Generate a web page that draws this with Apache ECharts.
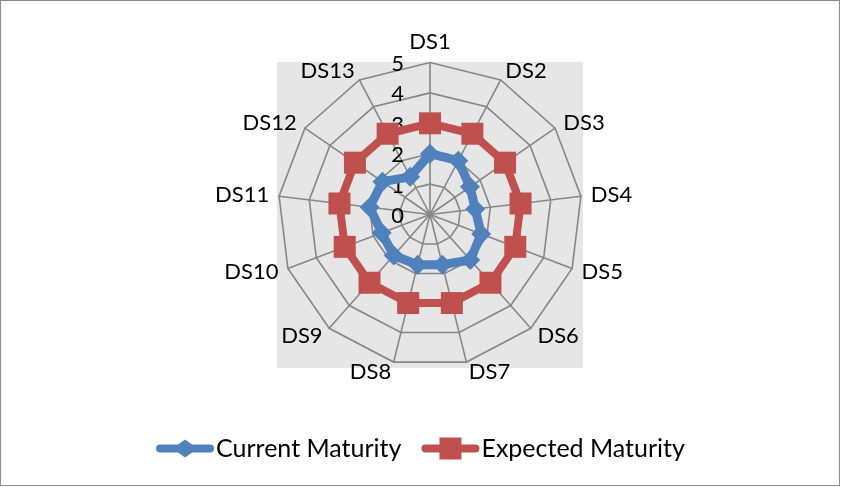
<!DOCTYPE html>
<html>
<head>
<meta charset="utf-8">
<script src="https://cdn.jsdelivr.net/npm/echarts@6/dist/echarts.min.js"></script>
<style>
  html, body { margin: 0; padding: 0; background: #fff; }
  #frame { position: absolute; left: 0; top: 0; width: 838px; height: 484px; border: 1px solid #8c8c8c; }
  #chart { width: 841px; height: 487px; }
</style>
</head>
<body>
<div id="frame"></div>
<div id="chart"></div>
<script>
// Domains DS1..DS13 (clockwise from the top)
const domains = ['DS1','DS2','DS3','DS4','DS5','DS6','DS7','DS8','DS9','DS10','DS11','DS12','DS13'];
const currentMaturity  = [2.0, 2.0, 1.6, 1.5, 1.8, 2.0, 1.7, 1.7, 1.8, 1.7, 2.0, 1.9, 1.4];
const expectedMaturity = [3, 3, 3, 3, 3, 3, 3, 3, 3, 3, 3, 3, 3];
const scaleTicks = [0, 1, 2, 3, 4, 5];
const seriesNames = ['Current Maturity', 'Expected Maturity'];

const FONT = 'Lato, "Open Sans", sans-serif';
const maxVal = scaleTicks[scaleTicks.length - 1];
const BLUE = '#4f81bd';
const RED = '#c0504d';

// Legend keys: a thick line with the series marker in the middle
const blueKey = 'path://M4,7 L22,7 L29,2 L36,7 L54,7 A4,4 0 0 1 54,15 L36,15 L29,20 L22,15 L4,15 A4,4 0 0 1 4,7 Z';
const redKey  = 'path://M4,7 L18,7 L18,0 L40,0 L40,7 L54,7 A4,4 0 0 1 54,15 L40,15 L40,22 L18,22 L18,15 L4,15 A4,4 0 0 1 4,7 Z';

// ECharts places radar indicators counter-clockwise; keep the first on top
// and reverse the rest so the domains run clockwise.
const order = [0].concat(domains.map((_, i) => i).slice(1).reverse());
const indicators = order.map(i => ({ name: domains[i], max: maxVal, min: 0 }));
const pick = arr => order.map(i => arr[i]);

const chart = echarts.init(document.getElementById('chart'));
chart.setOption({
  animation: false,
  backgroundColor: 'transparent',
  graphic: [{
    type: 'rect', z: -10, silent: true,
    shape: { x: 277, y: 62, width: 306, height: 306 },
    style: { fill: '#e6e6e6' }
  }],
  radar: {
    center: [430, 214.5],
    radius: 152,
    shape: 'polygon',
    splitNumber: 5,
    startAngle: 90,
    indicator: indicators,
    nameGap: 10,
    axisName: { color: '#000', fontSize: 22, fontFamily: FONT },
    axisLine: { lineStyle: { color: '#878787', width: 1.6 } },
    splitLine: { lineStyle: { color: '#878787', width: 1.6 } },
    splitArea: { show: false },
    axisLabel: { show: false }
  },
  // value scale printed beside the DS1 spoke
  grid: { left: 430, top: 64, width: 10, height: 152 },
  xAxis: { type: 'value', show: false },
  yAxis: {
    type: 'value', min: scaleTicks[0], max: maxVal, interval: 1,
    axisLine: { show: false }, axisTick: { show: false }, splitLine: { show: false },
    axisLabel: { color: '#000', fontSize: 22, fontFamily: FONT, margin: 26 }
  },
  legend: {
    bottom: 21,
    left: 'center',
    itemWidth: 58,
    itemHeight: 22,
    itemGap: 20,
    textStyle: { color: '#000', fontSize: 25, fontFamily: FONT, padding: [0, 0, 0, -3] },
    data: [
      { name: seriesNames[0], icon: blueKey, itemStyle: { color: BLUE } },
      { name: seriesNames[1], icon: redKey, itemStyle: { color: RED } }
    ]
  },
  series: [{
    type: 'radar',
    z: 3,
    data: [{
      name: seriesNames[0],
      value: pick(currentMaturity),
      symbol: 'diamond',
      symbolSize: 20,
      lineStyle: { color: BLUE, width: 9 },
      itemStyle: { color: BLUE }
    }]
  }, {
    type: 'radar',
    z: 2,
    data: [{
      name: seriesNames[1],
      value: pick(expectedMaturity),
      symbol: 'rect',
      symbolSize: 22,
      lineStyle: { color: RED, width: 8 },
      itemStyle: { color: RED }
    }]
  }]
});
</script>
</body>
</html>
